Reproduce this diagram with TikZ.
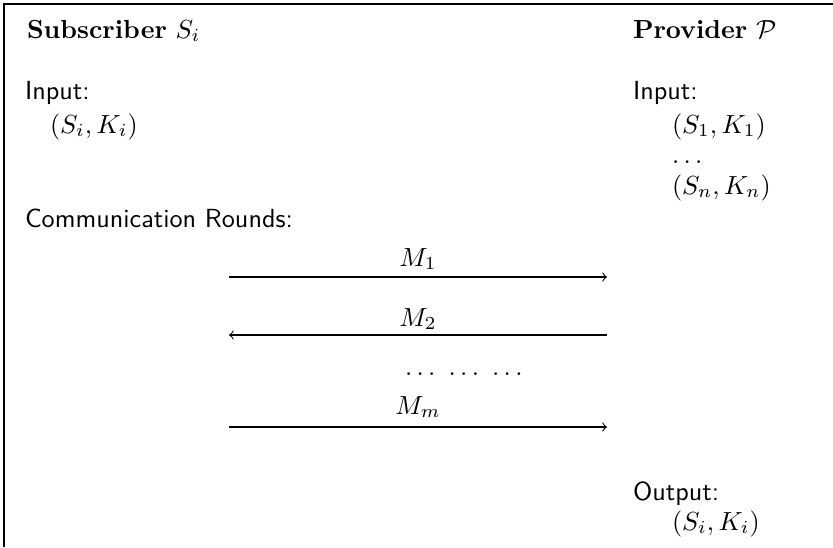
\documentclass[tikz,border=0pt]{standalone}
\usepackage{amsmath}
\begin{document}
\begin{tikzpicture}[x=0.382pt,y=-0.382pt,
  txt/.style={anchor=base west,inner sep=0pt,outer sep=0pt},
  lbl/.style={anchor=base,inner sep=0pt,outer sep=0pt},
  msg/.style={->,line width=0.4pt},
  frameline/.style={line width=0.7pt}]
\useasboundingbox (0,0) rectangle (833,547);
% frame
\coordinate (fc) at (4,4);
\coordinate (fr) at (833,4);
\coordinate (fb) at (4,547);
\draw[frameline] (fr) -- (fc) -- (fb);
% subscriber column
\node[txt] (subh) at (27,38) {\textbf{Subscriber} $S_i$};
\node[txt] (subin) at (25,99) {\textsf{Input:}};
\node[txt] (subk) at (50,133) {$(S_i,K_i)$};
\node[txt] (comm) at (25,227) {\textsf{Communication Rounds:}};
% provider column
\node[txt] (provh) at (633,38) {\textbf{Provider} $\mathcal{P}$};
\node[txt] (provin) at (633,99) {\textsf{Input:}};
\node[txt] (pk1) at (672,133) {$(S_1,K_1)$};
\node[txt] (pdots) at (672,163) {$\dots$};
\node[txt] (pkn) at (672,194) {$(S_n,K_n)$};
\node[txt] (pout) at (633,500) {\textsf{Output:}};
\node[txt] (pko) at (672,530) {$(S_i,K_i)$};
% messages
\coordinate (a1l) at (229,277); \coordinate (a1r) at (607,277);
\coordinate (a2l) at (229,335); \coordinate (a2r) at (607,335);
\coordinate (a3l) at (229,427); \coordinate (a3r) at (607,427);
\draw[msg] (a1l) -- (a1r);
\draw[msg] (a2r) -- (a2l);
\draw[msg] (a3l) -- (a3r);
\node[lbl] (m1) at (418,266) {$M_1$};
\node[lbl] (m2) at (418,326) {$M_2$};
\node[txt] (mdots) at (405,375) {$\dots\ \dots\ \dots$};
\node[lbl] (mm) at (418,414) {$M_m$};
\end{tikzpicture}
\end{document}
